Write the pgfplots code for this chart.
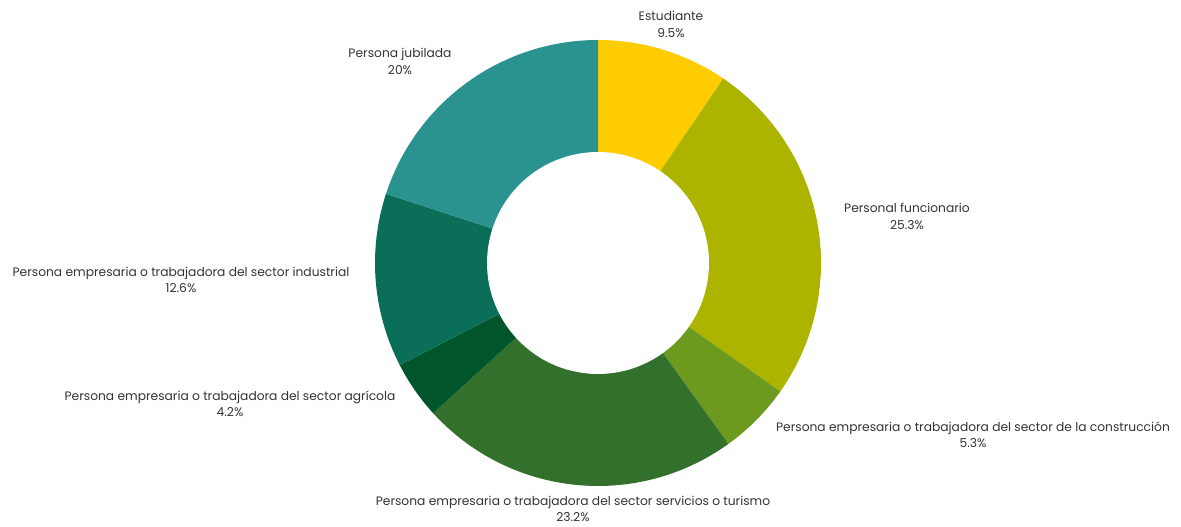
\documentclass[border=0pt]{standalone}
\usepackage{pgfplots}
\pgfplotsset{compat=1.18}
\usepackage{fontspec}
\setmainfont{Poppins}
\definecolor{cEst}{HTML}{FFCC00}
\definecolor{cFun}{HTML}{ADB400}
\definecolor{cCon}{HTML}{6B9A1F}
\definecolor{cSer}{HTML}{33702B}
\definecolor{cAgr}{HTML}{00552B}
\definecolor{cInd}{HTML}{0A6E58}
\definecolor{cJub}{HTML}{2A938F}
\definecolor{txt}{HTML}{333333}
% slice values (percent); total of the shares = 100.1
\def\total{100.1}
\newcommand{\slice}[3]{% #1 cumulative before, #2 value, #3 colour
  \pgfmathsetmacro{\angA}{90-(#1)/\total*360}
  \pgfmathsetmacro{\angB}{90-(#1+#2)/\total*360}
  \addplot[fill=#3, draw=none, domain=\angA:\angB, samples=80]
    ({598+223*cos(x)},{264+223*sin(x)}) -- (axis cs:598,264) -- cycle;
}
\tikzset{lbl/.style={font=\fontsize{9.2}{12.3}\selectfont, text=txt, align=center, inner sep=0pt}}
\begin{document}
\begin{tikzpicture}
\begin{axis}[
  width=885.75pt, height=395.25pt, scale only axis,
  xmin=0, xmax=1181, ymin=0, ymax=527,
  hide axis, clip=false,
]
\path (rel axis cs:0,0) rectangle (rel axis cs:1,1);
\slice{0}{9.5}{cEst}
\slice{9.5}{25.3}{cFun}
\slice{34.8}{5.3}{cCon}
\slice{40.1}{23.2}{cSer}
\slice{63.3}{4.2}{cAgr}
\slice{67.5}{12.6}{cInd}
\slice{80.1}{20}{cJub}
\addplot[fill=white, draw=none, domain=0:360, samples=120]
  ({598+111*cos(x)},{264+111*sin(x)}) -- cycle;
\node[lbl] at (axis cs:671,502.5) {Estudiante\\9.5\%};
\node[lbl] at (axis cs:907,310.5) {Personal funcionario\\25.3\%};
\node[lbl] at (axis cs:973,92.5) {Persona empresaria o trabajadora del sector de la construcción\\5.3\%};
\node[lbl] at (axis cs:573,18) {Persona empresaria o trabajadora del sector servicios o turismo\\23.2\%};
\node[lbl] at (axis cs:230,123) {Persona empresaria o trabajadora del sector agrícola\\4.2\%};
\node[lbl] at (axis cs:181,247) {Persona empresaria o trabajadora del sector industrial\\12.6\%};
\node[lbl] at (axis cs:400,465.5) {Persona jubilada\\20\%};
\end{axis}
\end{tikzpicture}
\end{document}
